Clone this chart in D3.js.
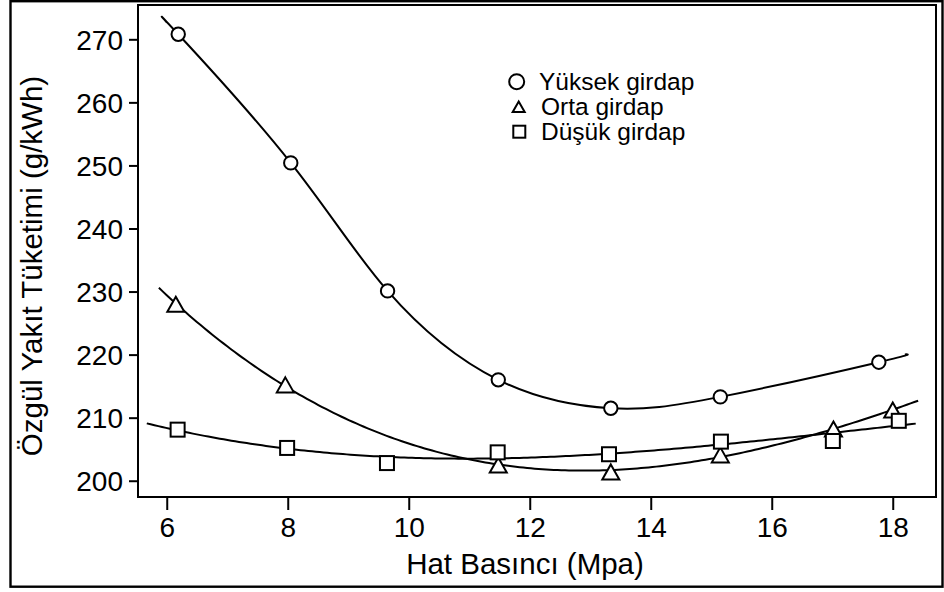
<!DOCTYPE html>
<html>
<head>
<meta charset="utf-8">
<script src="https://cdn.jsdelivr.net/npm/d3@7"></script>
<style>
  html, body { margin: 0; padding: 0; background: #fff; }
  svg { display: block; font-family: "Liberation Sans", Arial, sans-serif; }
</style>
</head>
<body>
<svg id="chart" width="944" height="592"></svg>
<script>
// Line pressure (MPa) and specific fuel consumption (g/kWh) for three swirl levels
const highSwirlX = [6.19, 8.05, 9.65, 11.48, 13.34, 15.15, 17.77];
const highSwirlY = [270.8, 250.4, 230.1, 216.0, 211.5, 213.3, 218.8];

const midSwirlX = [6.15, 7.96, 11.48, 13.34, 15.15, 17.02, 18.0];
const midSwirlY = [228.0, 215.2, 202.5, 201.4, 204.1, 208.2, 211.2];

const lowSwirlX = [6.18, 7.99, 9.64, 11.47, 13.31, 15.16, 17.01, 18.10];
const lowSwirlY = [208.1, 205.2, 202.8, 204.5, 204.2, 206.2, 206.3, 209.5];

// Span of each trend curve along the pressure axis
const highSwirlFitRange = [6.0, 18.2];
const midSwirlFitRange = [5.87, 18.42];
const lowSwirlFitRange = [5.67, 18.38];

const seriesNames = ["Yüksek girdap", "Orta girdap", "Düşük girdap"];
const xTickValues = [6, 8, 10, 12, 14, 16, 18];
const yTickValues = [200, 210, 220, 230, 240, 250, 260, 270];
const xTitle = "Hat Basıncı (Mpa)";
const yTitle = "Özgül Yakıt Tüketimi (g/kWh)";

const svg = d3.select("#chart");
const plot = { left: 138, right: 936, top: 5, bottom: 497 };

const x = d3.scaleLinear().domain([5.525, 18.715]).range([plot.left, plot.right]);
const y = d3.scaleLinear().domain([197.42, 275.44]).range([plot.bottom, plot.top]);

// Outer frame
svg.append("rect")
  .attr("x", 10.5).attr("y", 1.2)
  .attr("width", 932).attr("height", 585.5)
  .attr("fill", "none").attr("stroke", "#000").attr("stroke-width", 2.4);

// Plot frame
svg.append("rect")
  .attr("x", plot.left).attr("y", plot.top)
  .attr("width", plot.right - plot.left).attr("height", plot.bottom - plot.top)
  .attr("fill", "none").attr("stroke", "#000").attr("stroke-width", 2);

// Axes
const xAxis = d3.axisBottom(x).tickValues(xTickValues).tickSize(13).tickPadding(8).tickFormat(d3.format("d"));
const gx = svg.append("g").attr("transform", `translate(0,${plot.bottom})`).call(xAxis);
gx.select(".domain").remove();
gx.selectAll(".tick line").attr("stroke", "#000").attr("stroke-width", 2);
gx.selectAll(".tick text")
  .attr("fill", "#000").attr("font-size", 28)
  .attr("dy", null).attr("y", 40);

const yAxis = d3.axisLeft(y).tickValues(yTickValues).tickSize(9).tickPadding(6).tickFormat(d3.format("d"));
const gy = svg.append("g").attr("transform", `translate(${plot.left},0)`).call(yAxis);
gy.select(".domain").remove();
gy.selectAll(".tick line").attr("stroke", "#000").attr("stroke-width", 2);
gy.selectAll(".tick text")
  .attr("fill", "#000").attr("font-size", 28)
  .attr("x", -15).attr("dy", "0.36em");

// Axis titles
svg.append("text")
  .attr("x", 525).attr("y", 574)
  .attr("text-anchor", "middle").attr("font-size", 29.5)
  .text(xTitle);

svg.append("text")
  .attr("transform", "translate(42,266) rotate(-90)")
  .attr("text-anchor", "middle").attr("font-size", 29.5)
  .text(yTitle);

// Linear least squares over a set of basis functions
function leastSquares(xs, ys, basis) {
  const n = basis.length;
  const A = Array.from({ length: n }, () => new Array(n + 1).fill(0));
  xs.forEach((xv, k) => {
    const pw = basis.map(b => b(xv));
    for (let i = 0; i < n; i++) {
      for (let j = 0; j < n; j++) A[i][j] += pw[i] * pw[j];
      A[i][n] += pw[i] * ys[k];
    }
  });
  for (let i = 0; i < n; i++) {
    let p = i;
    for (let r = i + 1; r < n; r++) if (Math.abs(A[r][i]) > Math.abs(A[p][i])) p = r;
    [A[i], A[p]] = [A[p], A[i]];
    for (let r = 0; r < n; r++) {
      if (r === i) continue;
      const f = A[r][i] / A[i][i];
      for (let k = i; k <= n; k++) A[r][k] -= f * A[i][k];
    }
  }
  const coef = A.map((row, i) => row[n] / row[i]);
  return xv => basis.reduce((acc, b, i) => acc + coef[i] * b(xv), 0);
}

// Cubic regression trend
function cubicFit(xs, ys) {
  const t = xv => (xv - 12) / 6;
  return leastSquares(xs, ys, [() => 1, v => t(v), v => t(v) ** 2, v => t(v) ** 3]);
}

const line = d3.line().x(d => x(d[0])).y(d => y(d[1]));

function drawPath(pts, curve) {
  svg.append("path").datum(pts)
    .attr("d", line.curve(curve)).attr("fill", "none")
    .attr("stroke", "#000").attr("stroke-width", 2);
}

function drawFit(f, range) {
  const pts = d3.range(0, 201).map(i => {
    const xv = range[0] + (range[1] - range[0]) * i / 200;
    return [xv, f(xv)];
  });
  drawPath(pts, d3.curveLinear);
}

// Smooth spline through the points, stretched to the range with quadratic end extrapolation
function drawSpline(xs, ys, range) {
  const quad = (ix) => leastSquares(ix.map(i => xs[i]), ix.map(i => ys[i]), [() => 1, v => v, v => v * v]);
  const n = xs.length;
  const head = quad([0, 1, 2]);
  const tail = quad([n - 3, n - 2, n - 1]);
  const pts = [[range[0], head(range[0])], ...d3.zip(xs, ys), [range[1], tail(range[1])]];
  drawPath(pts, d3.curveNatural);
}

drawSpline(highSwirlX, highSwirlY, highSwirlFitRange);
drawFit(cubicFit(midSwirlX, midSwirlY), midSwirlFitRange);
drawFit(cubicFit(lowSwirlX, lowSwirlY), lowSwirlFitRange);

// Marker shapes
function trianglePath(cx, cy, w, h) {
  return `M${cx},${cy - h / 2}L${cx + w / 2},${cy + h / 2}L${cx - w / 2},${cy + h / 2}Z`;
}

const markerStyle = sel => sel.attr("fill", "#fff").attr("stroke", "#000").attr("stroke-width", 2);

svg.append("g").selectAll("circle")
  .data(d3.zip(highSwirlX, highSwirlY)).join("circle")
  .attr("cx", d => x(d[0])).attr("cy", d => y(d[1])).attr("r", 6.7)
  .call(markerStyle);

svg.append("g").selectAll("path")
  .data(d3.zip(midSwirlX, midSwirlY)).join("path")
  .attr("d", d => trianglePath(x(d[0]), y(d[1]), 17, 15))
  .call(markerStyle);

svg.append("g").selectAll("rect")
  .data(d3.zip(lowSwirlX, lowSwirlY)).join("rect")
  .attr("x", d => x(d[0]) - 7).attr("y", d => y(d[1]) - 7)
  .attr("width", 14).attr("height", 14)
  .call(markerStyle);

// Legend
const legend = svg.append("g");
const legendRows = [
  { sym: "circle", cx: 516.7, cy: 81.7, tx: 539, ty: 90 },
  { sym: "triangle", cx: 518.7, cy: 106.7, tx: 541, ty: 115 },
  { sym: "square", cx: 519.3, cy: 131.7, tx: 541, ty: 140 }
];
legendRows.forEach((r, i) => {
  if (r.sym === "circle") {
    legend.append("circle").attr("cx", r.cx).attr("cy", r.cy).attr("r", 7.5).call(markerStyle);
  } else if (r.sym === "triangle") {
    legend.append("path").attr("d", trianglePath(r.cx, r.cy, 12, 10.5)).call(markerStyle);
  } else {
    legend.append("rect").attr("x", r.cx - 6).attr("y", r.cy - 6).attr("width", 12).attr("height", 12).call(markerStyle);
  }
  legend.append("text").attr("x", r.tx).attr("y", r.ty)
    .attr("font-size", 24.5).attr("fill", "#000").text(seriesNames[i]);
});
</script>
</body>
</html>
